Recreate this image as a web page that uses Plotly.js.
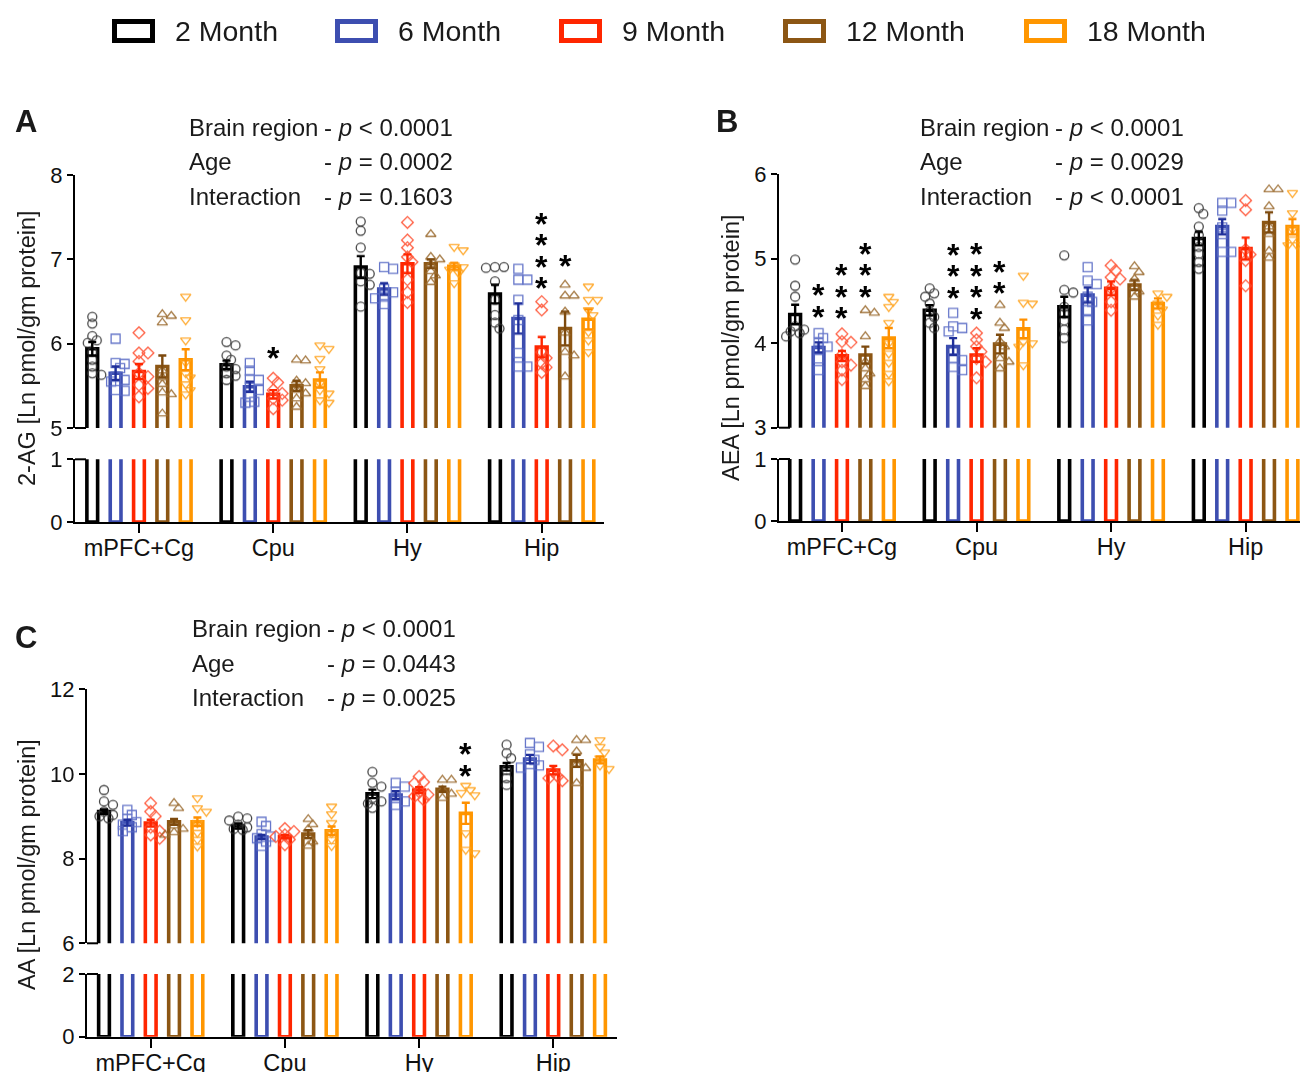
<!DOCTYPE html>
<html><head><meta charset="utf-8">
<script src="https://cdn.plot.ly/plotly-3.0.1.min.js"></script>
<style>html,body{margin:0;padding:0;background:#fff}</style>
</head><body><div id="chart" style="width:1300px;height:1072px"></div>
<script>
// ---------- DATA ----------
const regions = ['mPFC+Cg', 'Cpu', 'Hy', 'Hip'];
const ages = ['2 Month', '6 Month', '9 Month', '12 Month', '18 Month'];

// Panel A: 2-AG  (means / SEM per age, ordered by region)
const agMeans = [[5.94,5.75,6.91,6.59],[5.65,5.49,6.65,6.30],[5.67,5.40,6.95,5.96],[5.73,5.50,6.95,6.18],[5.81,5.57,6.92,6.29]];
const agSem   = [[0.08,0.05,0.13,0.11],[0.08,0.06,0.07,0.18],[0.09,0.05,0.11,0.12],[0.13,0.06,0.05,0.20],[0.125,0.09,0.04,0.12]];
const ag2M  = [[6.32,6.24,6.09,6.04,6.01,5.90,5.81,5.73,5.65,5.63],[6.02,5.98,5.86,5.81,5.73,5.70,5.65,5.62,5.57],[7.45,7.34,7.14,6.84,6.83,6.74,6.70,6.44],[6.91,6.91,6.90,6.74,6.52,6.34,6.25,6.18]];
const ag6M  = [[6.06,5.77,5.76,5.71,5.61,5.57,5.55,5.45,5.44],[5.77,5.68,5.58,5.57,5.49,5.45,5.37,5.31,5.30],[6.91,6.89,6.65,6.61,6.56,6.54,6.47],[6.89,6.76,6.76,6.52,6.28,5.89,5.73,5.73]];
const ag9M  = [[6.13,5.89,5.89,5.79,5.65,5.61,5.51,5.47,5.37],[5.59,5.54,5.45,5.41,5.35,5.33,5.23],[7.44,7.23,7.14,7.03,6.97,6.76,6.61,6.49],[6.50,6.40,5.90,5.83,5.77,5.72,5.66]];
const ag12M = [[6.35,6.33,6.25,5.68,5.60,5.52,5.42,5.40,5.17],[5.81,5.80,5.56,5.53,5.45,5.41,5.35,5.25],[7.30,7.03,7.00,6.94,6.86,6.81,6.73],[6.70,6.57,6.57,6.38,6.13,5.90,5.86,5.61]];
const ag18M = [[6.56,6.28,6.04,5.78,5.65,5.60,5.52,5.45,5.40],[5.98,5.94,5.82,5.70,5.53,5.45,5.41,5.33,5.30],[7.15,7.11,6.93,6.91,6.88,6.84,6.72],[6.68,6.52,6.52,6.40,6.34,6.14,6.04,5.90]];
const agStarRegion = [1, 3, 3];
const agStarAge    = [2, 2, 3];
const agStarCount  = [1, 4, 1];
const agStarY      = [5.89, 6.72, 6.985];
const agStats = ['&lt; 0.0001', '= 0.0002', '= 0.1603'];

// Panel B: AEA
const aeaMeans = [[4.34,4.39,4.43,5.24],[3.95,3.96,4.57,5.38],[3.85,3.86,4.65,5.12],[3.86,3.99,4.69,5.43],[4.06,4.17,4.47,5.38]];
const aeaSem   = [[0.115,0.06,0.12,0.08],[0.06,0.10,0.09,0.09],[0.06,0.08,0.08,0.13],[0.10,0.11,0.06,0.12],[0.12,0.11,0.06,0.09]];
const aea2M  = [[4.99,4.68,4.55,4.20,4.16,4.14,4.12,4.08],[4.65,4.59,4.55,4.47,4.37,4.31,4.24,4.18],[5.04,4.63,4.60,4.43,4.35,4.27,4.16,4.06],[5.60,5.53,5.38,5.28,5.14,5.06,4.96,4.88]];
const aea6M  = [[4.12,4.06,4.00,3.96,3.92,3.82,3.68],[4.36,4.20,4.18,4.14,3.82,3.80,3.72,3.68],[4.90,4.74,4.70,4.55,4.49,4.39,4.27],[5.66,5.66,5.57,5.37,5.29,5.08,5.08]];
const aea9M  = [[4.11,4.02,4.01,3.86,3.78,3.74,3.68,3.57],[4.12,4.04,3.96,3.90,3.82,3.78,3.59],[4.92,4.86,4.78,4.76,4.65,4.49,4.39],[5.69,5.58,5.11,5.05,4.98,4.68]];
const aea12M = [[4.39,4.36,4.08,3.78,3.70,3.64,3.57,3.49],[4.45,4.24,4.18,4.02,3.96,3.82,3.78,3.70],[4.91,4.84,4.76,4.67,4.61,4.55],[5.82,5.82,5.62,5.38,5.29,5.09,5.01]];
const aea18M = [[4.55,4.49,4.43,4.24,4.00,3.88,3.77,3.64,3.55],[4.80,4.48,4.47,4.02,4.00,3.96,3.74],[4.59,4.55,4.47,4.40,4.33,4.22],[5.78,5.54,5.52,5.35,5.23,5.16,5.16]];
const aeaStarRegion = [0, 0, 0, 1, 1, 1];
const aeaStarAge    = [1, 2, 3, 1, 2, 3];
const aeaStarCount  = [2, 3, 3, 3, 4, 2];
const aeaStarY      = [4.374, 4.355, 4.611, 4.599, 4.347, 4.651];
const aeaStats = ['&lt; 0.0001', '= 0.0029', '&lt; 0.0001'];

// Panel C: AA
const aaMeans = [[9.11,8.77,9.53,10.17],[8.85,8.51,9.50,10.35],[8.84,8.52,9.62,10.09],[8.87,8.58,9.64,10.31],[8.87,8.66,9.07,10.33]];
const aaSem   = [[0.05,0.06,0.10,0.09],[0.07,0.05,0.09,0.10],[0.08,0.04,0.07,0.10],[0.07,0.09,0.06,0.14],[0.10,0.10,0.25,0.08]];
const aa2M  = [[9.62,9.35,9.27,9.11,9.03,9.00,8.95],[8.99,8.95,8.90,8.80,8.74,8.70,8.68],[10.05,9.79,9.70,9.43,9.35,9.30,9.20],[10.69,10.49,10.37,10.09,9.90,9.74]];
const aa6M  = [[9.15,9.03,8.93,8.86,8.80,8.74,8.65],[8.87,8.77,8.58,8.52,8.48,8.40,8.30],[9.79,9.70,9.58,9.43,9.35,9.27],[10.73,10.64,10.46,10.33,10.23,10.20,10.15]];
const aa9M  = [[9.31,9.11,9.00,8.74,8.65,8.56,8.48],[8.71,8.64,8.56,8.52,8.45,8.33],[9.94,9.81,9.78,9.58,9.51,9.47,9.39],[10.66,10.57,10.05,9.94,9.90,9.84]];
const aa12M = [[9.31,9.19,8.78,8.70,8.62,8.56],[8.93,8.81,8.70,8.52,8.40,8.30],[9.86,9.86,9.62,9.53,9.43],[10.80,10.80,10.53,10.22,10.14,9.78]];
const aa18M = [[9.43,9.19,9.11,8.84,8.61,8.45,8.29],[9.23,9.05,8.84,8.60,8.45,8.30],[9.72,9.62,9.55,9.50,8.60,8.21,8.13],[10.80,10.64,10.51,10.37,10.20,10.12]];
const aaStarRegion = [2];
const aaStarAge    = [4];
const aaStarCount  = [2];
const aaStarY      = [10.078];
const aaStats = ['&lt; 0.0001', '= 0.0443', '= 0.0025'];

const statLabels = ['Brain region', 'Age', 'Interaction'];

// ---------- STYLE / LAYOUT ----------
const W = 1300, H = 1072;
const fx = p => p / W, fy = p => 1 - p / H;
const FONT = 'Liberation Sans, Arial, Helvetica, sans-serif';
const barColors = ['#000000', '#3d4eb0', '#ff2600', '#8c5614', '#ff9600'];
const ptColors  = ['#333333', '#5668c4', '#ff4b2b', '#9a6a2e', '#ffa21c'];
const errColors = ['#000000', '#1f2f9a', '#ff2600', '#7d4a0e', '#ff9000'];
const symbols = ['circle-open', 'square-open', 'diamond-open', 'triangle-up-open', 'triangle-down-open'];
const ageOffset = [-0.348, -0.174, 0, 0.174, 0.348];
const BAR_W = 0.08;
const STAR_GAP_PX = 21.5;

const panels = [
  {letter:'A', title:'2-AG [Ln pmol/gm protein]', means:agMeans, sems:agSem, pts:[ag2M,ag6M,ag9M,ag12M,ag18M],
   stars:[agStarRegion,agStarAge,agStarCount,agStarY], stats:agStats,
   xa:'x', yu:'y', yl:'y2', xPx:[75,604], xR:[-0.4765,3.464],
   yuPx:[175.2,428], yuR:[5,8], yuT:[5,6,7,8], ylPx:[459.3,522], ylR:[0,1], ylT:[0,1],
   letterPos:[26,121], titlePos:[27,348], statX:[187,455], statY:[127,161,196]},
  {letter:'B', title:'AEA [Ln pmol/gm protein]', means:aeaMeans, sems:aeaSem, pts:[aea2M,aea6M,aea9M,aea12M,aea18M],
   stars:[aeaStarRegion,aeaStarAge,aeaStarCount,aeaStarY], stats:aeaStats,
   xa:'x2', yu:'y3', yl:'y4', xPx:[779,1300], xR:[-0.468,3.404],
   yuPx:[174.3,427.7], yuR:[3,6], yuT:[3,4,5,6], ylPx:[459,521], ylR:[0,1], ylT:[0,1],
   letterPos:[727,121], titlePos:[731,348], statX:[918,1186], statY:[127,161,196]},
  {letter:'C', title:'AA [Ln pmol/gm protein]', means:aaMeans, sems:aaSem, pts:[aa2M,aa6M,aa9M,aa12M,aa18M],
   stars:[aaStarRegion,aaStarAge,aaStarCount,aaStarY], stats:aaStats,
   xa:'x3', yu:'y5', yl:'y6', xPx:[87,617], xR:[-0.4747,3.4747],
   yuPx:[689.3,943.3], yuR:[6,12], yuT:[6,8,10,12], ylPx:[974,1036.7], ylR:[0,2], ylT:[0,2],
   letterPos:[26,637], titlePos:[27,865], statX:[190,458], statY:[628,663,697]}
];

const axKey = r => r.replace(/^x/, 'xaxis').replace(/^y/, 'yaxis');

// deterministic beeswarm-style horizontal spread (pixels)
function spread(vals, yppu) {
  const placed = [];
  const order = vals.map((v, i) => i).sort((a, b) => vals[b] - vals[a]);
  const out = new Array(vals.length).fill(0);
  const cand = [0, 1, -1, 2, -2];
  const step = 4.5, minD = 6;
  for (const i of order) {
    let chosen = 0, best = -1;
    for (const c of cand) {
      const xo = c * step;
      let md = 1e9;
      for (const p of placed) {
        const dx = xo - p.x, dy = (vals[i] - p.v) * yppu;
        md = Math.min(md, Math.sqrt(dx * dx + dy * dy));
      }
      if (md >= minD) { chosen = xo; best = md; break; }
      if (md > best) { best = md; chosen = xo; }
    }
    placed.push({x: chosen, v: vals[i]});
    out[i] = chosen;
  }
  return out;
}

const traces = [], ptTraces = [], errTraces = [];
const layout = {
  width: W, height: H, margin: {l:0, r:0, t:0, b:0},
  paper_bgcolor: '#ffffff', plot_bgcolor: 'rgba(0,0,0,0)',
  showlegend: false, barmode: 'overlay',
  font: {family: FONT, color: '#000'},
  annotations: [], shapes: []
};

function paperText(xp, yp, text, size, opts) {
  return Object.assign({
    x: fx(xp), y: fy(yp), xref: 'paper', yref: 'paper', xanchor: 'center', yanchor: 'middle',
    text: text, showarrow: false, font: {size: size, family: FONT, color: '#1a1a1a'}
  }, opts || {});
}

panels.forEach(P => {
  const xppu = (P.xPx[1] - P.xPx[0]) / (P.xR[1] - P.xR[0]);
  const yppu = (P.yuPx[1] - P.yuPx[0]) / (P.yuR[1] - P.yuR[0]);
  // axes
  layout[axKey(P.xa)] = {
    domain: [fx(P.xPx[0]), fx(P.xPx[1])], range: P.xR, anchor: P.yl,
    tickmode: 'array', tickvals: regions.map((r, i) => i), ticktext: regions,
    ticks: 'outside', ticklen: 9, tickwidth: 2, tickcolor: '#000', ticklabelstandoff: -5,
    showline: true, linewidth: 2, linecolor: '#000', showgrid: false, zeroline: false,
    tickfont: {size: 23.5, family: FONT, color: '#111'}, fixedrange: true
  };
  const yCommon = {
    anchor: P.xa, ticks: 'outside', ticklen: 6, tickwidth: 2, tickcolor: '#000',
    showline: true, linewidth: 2, linecolor: '#000', showgrid: false, zeroline: false,
    tickfont: {size: 22, family: FONT, color: '#111'}, tickmode: 'array', fixedrange: true
  };
  layout[axKey(P.yu)] = Object.assign({}, yCommon, {
    domain: [fy(P.yuPx[1]), fy(P.yuPx[0])], range: P.yuR, tickvals: P.yuT});
  layout[axKey(P.yl)] = Object.assign({}, yCommon, {
    domain: [fy(P.ylPx[1]), fy(P.ylPx[0])], range: P.ylR, tickvals: P.ylT});

  // break marks
  [P.yuPx[1], P.ylPx[0]].forEach(yy => layout.shapes.push({
    type: 'line', xref: 'paper', yref: 'paper',
    x0: fx(P.xPx[0]), x1: fx(P.xPx[0] + 11), y0: fy(yy), y1: fy(yy),
    line: {color: '#000', width: 2}
  }));

  ages.forEach((age, k) => {
    const xs = regions.map((r, i) => i + ageOffset[k]);
    [P.yu, P.yl].forEach(ya => traces.push({
      type: 'bar', x: xs, y: P.means[k], width: BAR_W, xaxis: P.xa, yaxis: ya,
      marker: {color: '#ffffff', line: {color: barColors[k], width: 3.6}},
      hoverinfo: 'skip', name: age
    }));
    // individual points
    const px = [], py = [];
    P.pts[k].forEach((vals, i) => {
      const off = spread(vals, yppu);
      vals.forEach((v, j) => { px.push(i + ageOffset[k] + off[j] / xppu); py.push(v); });
    });
    ptTraces.push({
      type: 'scatter', mode: 'markers', x: px, y: py, xaxis: P.xa, yaxis: P.yu,
      marker: {symbol: symbols[k], size: 9, color: ptColors[k], line: {color: ptColors[k], width: 1.3}},
      opacity: 0.9, hoverinfo: 'skip', cliponaxis: false
    });
    // SEM error bars
    errTraces.push({
      type: 'scatter', mode: 'markers', x: xs, y: P.means[k], xaxis: P.xa, yaxis: P.yu,
      marker: {size: 1, color: 'rgba(0,0,0,0)'},
      error_y: {type: 'data', array: P.sems[k], visible: true, color: errColors[k], thickness: 2.4, width: 4},
      hoverinfo: 'skip'
    });
  });

  // significance asterisks
  const [sr, sa, sc, sy] = P.stars;
  sr.forEach((reg, n) => {
    for (let s = 0; s < sc[n]; s++) {
      layout.annotations.push({
        x: reg + ageOffset[sa[n]], y: sy[n] + s * STAR_GAP_PX / yppu, xref: P.xa, yref: P.yu,
        xanchor: 'center', yanchor: 'middle',
        text: '*', showarrow: false, yshift: -5,
        font: {size: 32, family: FONT, color: '#000', weight: 'bold'}
      });
    }
  });

  // panel letter
  layout.annotations.push(paperText(P.letterPos[0], P.letterPos[1], '<b>' + P.letter + '</b>', 31));
  // y-axis title
  layout.annotations.push(paperText(P.titlePos[0], P.titlePos[1], P.title, 23.5, {textangle: -90}));
  // statistics text
  statLabels.forEach((lab, i) => {
    layout.annotations.push(paperText(P.statX[0], P.statY[i], lab, 24, {xanchor: 'left'}));
    layout.annotations.push(paperText(P.statX[1], P.statY[i], '- <i>p</i> ' + P.stats[i], 24, {xanchor: 'right'}));
  });
});

// legend (drawn manually)
const legendLeft = [112, 335, 559, 783, 1024];
ages.forEach((age, k) => {
  const x0 = legendLeft[k];
  layout.shapes.push({
    type: 'rect', xref: 'paper', yref: 'paper',
    x0: fx(x0 + 2.5), x1: fx(x0 + 40.5), y0: fy(40.5), y1: fy(21.5),
    line: {color: barColors[k], width: 5}, fillcolor: '#ffffff'
  });
  layout.annotations.push(paperText(x0 + 61, 31, age, 28.5, {xanchor: 'left'}));
});

Plotly.newPlot('chart', traces.concat(ptTraces, errTraces), layout, {staticPlot: true, displayModeBar: false});
</script>
</body></html>
